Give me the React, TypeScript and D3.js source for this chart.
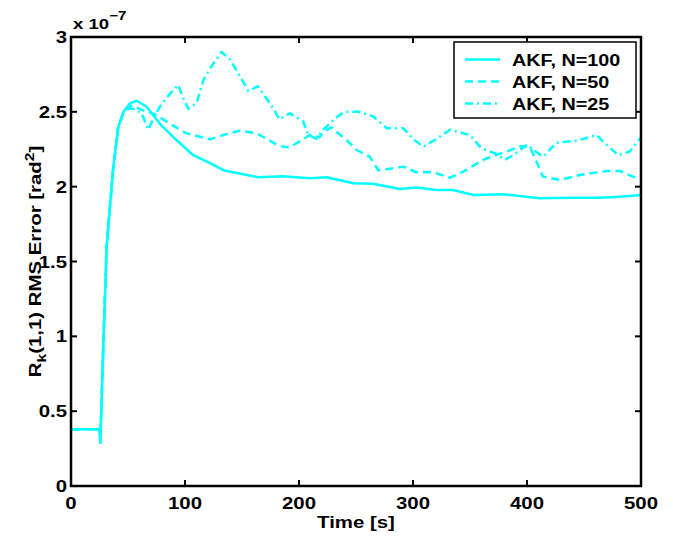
import React from "react";
import * as d3 from "d3";

const t100 = [0, 25, 25.7, 28.3, 31.3, 34.2, 37.1, 41.5, 45.9, 51.8, 57.6, 66.4, 78, 92.7, 107.3, 122, 133.6, 151, 164, 186, 209.6, 224, 247.6, 265, 288.6, 303, 320.8, 335, 353, 379, 411, 437.7, 464, 481.6, 500];
const v100 = [0.38, 0.38, 0.29, 0.93, 1.6, 1.87, 2.13, 2.4, 2.5, 2.557, 2.574, 2.534, 2.42, 2.31, 2.21, 2.157, 2.11, 2.083, 2.063, 2.07, 2.056, 2.063, 2.023, 2.02, 1.985, 1.994, 1.978, 1.978, 1.944, 1.949, 1.922, 1.926, 1.926, 1.933, 1.944];

const t50 = [0, 25, 25.7, 28.3, 31.3, 34.2, 37.1, 41.5, 45.9, 50, 53, 63.4, 75, 86.8, 101.5, 122, 133.6, 148, 163, 183, 192, 209.6, 218, 222, 228.5, 241.8, 250.6, 262, 269.6, 279.8, 291.5, 303, 317.8, 332.5, 344, 361.7, 376, 382, 394, 402.6, 414, 429, 446.5, 470, 481.6, 493, 500];
const v50 = [0.38, 0.38, 0.29, 0.93, 1.6, 1.87, 2.13, 2.4, 2.49, 2.53, 2.54, 2.51, 2.48, 2.42, 2.356, 2.316, 2.345, 2.374, 2.356, 2.27, 2.263, 2.345, 2.33, 2.37, 2.396, 2.31, 2.245, 2.2, 2.11, 2.12, 2.134, 2.096, 2.096, 2.06, 2.1, 2.18, 2.22, 2.234, 2.27, 2.267, 2.067, 2.045, 2.078, 2.105, 2.105, 2.067, 2.06];

const t25 = [0, 25, 25.7, 28.3, 31.3, 34.2, 37.1, 41.5, 45.9, 50, 55, 62, 67.8, 72, 78, 86.8, 94, 98, 102.9, 110.2, 116, 122, 132, 139.5, 148, 155.5, 164, 174.6, 183, 192, 203.8, 208, 215.5, 221, 231.6, 240, 253, 265, 277, 291.5, 300, 309, 320.8, 332.5, 350, 360, 373, 380.7, 388, 399.7, 414, 426, 443.6, 461, 468.4, 480, 490, 500];
const v25 = [0.38, 0.38, 0.29, 0.93, 1.6, 1.87, 2.13, 2.4, 2.49, 2.52, 2.52, 2.49, 2.38, 2.45, 2.535, 2.62, 2.68, 2.6, 2.52, 2.557, 2.71, 2.79, 2.9, 2.85, 2.74, 2.64, 2.67, 2.557, 2.45, 2.49, 2.435, 2.345, 2.32, 2.38, 2.456, 2.5, 2.5, 2.47, 2.39, 2.39, 2.32, 2.267, 2.32, 2.38, 2.345, 2.256, 2.22, 2.18, 2.21, 2.28, 2.2, 2.294, 2.307, 2.345, 2.29, 2.21, 2.234, 2.33];

const legendLabels = ["AKF, N=100", "AKF, N=50", "AKF, N=25"];
const xTicks = [0, 100, 200, 300, 400, 500];
const yTicks = [0, 0.5, 1, 1.5, 2, 2.5, 3];

const W = 673, H = 540;
const L = 71, R = 641, T = 37, B = 486;
const COLOR = "#00FFFF";
const FONT = "'Liberation Sans', Arial, Helvetica, sans-serif";
const FS = 17;
const SX = 1.2;
const dashes = ["none", "8 5", "8 4 2 4"];

function ST({ x, y, anchor = "start", rotate = 0, children, size = FS }: any) {
  return (
    <g transform={`translate(${x},${y}) rotate(${rotate}) scale(${SX},1)`}>
      <text x={0} y={0} textAnchor={anchor} fontSize={size}>{children}</text>
    </g>
  );
}

export default function App() {
  const x = d3.scaleLinear().domain([0, 500]).range([L, R]);
  const y = d3.scaleLinear().domain([0, 3]).range([B, T]);
  const line = d3.line<[number, number]>().x((d) => x(d[0])).y((d) => y(d[1]));
  const series = [
    d3.zip(t100, v100) as [number, number][],
    d3.zip(t50, v50) as [number, number][],
    d3.zip(t25, v25) as [number, number][],
  ];
  const tickLen = 6;
  const legX = 454, legY = 42, legW = 182, legH = 76;
  return (
    <svg width={W} height={H} style={{ position: "absolute", left: 0, top: 0 }} fontFamily={FONT} fontWeight="bold">
      <rect x={0} y={0} width={W} height={H} fill="#fff" />
      {series.map((s, i) => (
        <path key={i} d={line(s) || ""} fill="none" stroke={COLOR} strokeWidth={2.5} strokeDasharray={dashes[i]} strokeLinejoin="round" />
      ))}
      {xTicks.map((t) => (
        <g key={"x" + t}>
          <line x1={x(t)} x2={x(t)} y1={B} y2={B - tickLen} stroke="#000" strokeWidth={2} />
          <line x1={x(t)} x2={x(t)} y1={T} y2={T + tickLen} stroke="#000" strokeWidth={2} />
          <ST x={x(t)} y={509} anchor="middle">{t}</ST>
        </g>
      ))}
      {yTicks.map((t) => (
        <g key={"y" + t}>
          <line x1={L} x2={L + tickLen} y1={y(t)} y2={y(t)} stroke="#000" strokeWidth={2} />
          <line x1={R} x2={R - tickLen} y1={y(t)} y2={y(t)} stroke="#000" strokeWidth={2} />
          <ST x={67} y={y(t) + 6} anchor="end">{t}</ST>
        </g>
      ))}
      <rect x={L} y={T} width={R - L} height={B - T} fill="none" stroke="#000" strokeWidth={2.5} />
      <ST x={73} y={29} size={15.5}>
        x 10<tspan dy={-9} fontSize={12.5}>−7</tspan>
      </ST>
      <ST x={(L + R) / 2} y={528} anchor="middle">Time [s]</ST>
      <ST x={41} y={(T + B) / 2} rotate={-90} anchor="middle">
        R<tspan dy={5} fontSize={13}>k</tspan><tspan dy={-5}>(1,1) RMS Error [rad</tspan><tspan dy={-7} fontSize={13}>2</tspan><tspan dy={7}>]</tspan>
      </ST>
      <rect x={legX} y={legY} width={legW} height={legH} fill="#fff" stroke="#000" strokeWidth={1.5} />
      {legendLabels.map((lab, i) => {
        const yy = 59.5 + i * 22;
        return (
          <g key={lab}>
            <line x1={465} x2={500} y1={yy} y2={yy} stroke={COLOR} strokeWidth={2.5} strokeDasharray={dashes[i]} />
            <ST x={512} y={yy + 6} size={16.5}>{lab}</ST>
          </g>
        );
      })}
    </svg>
  );
}
